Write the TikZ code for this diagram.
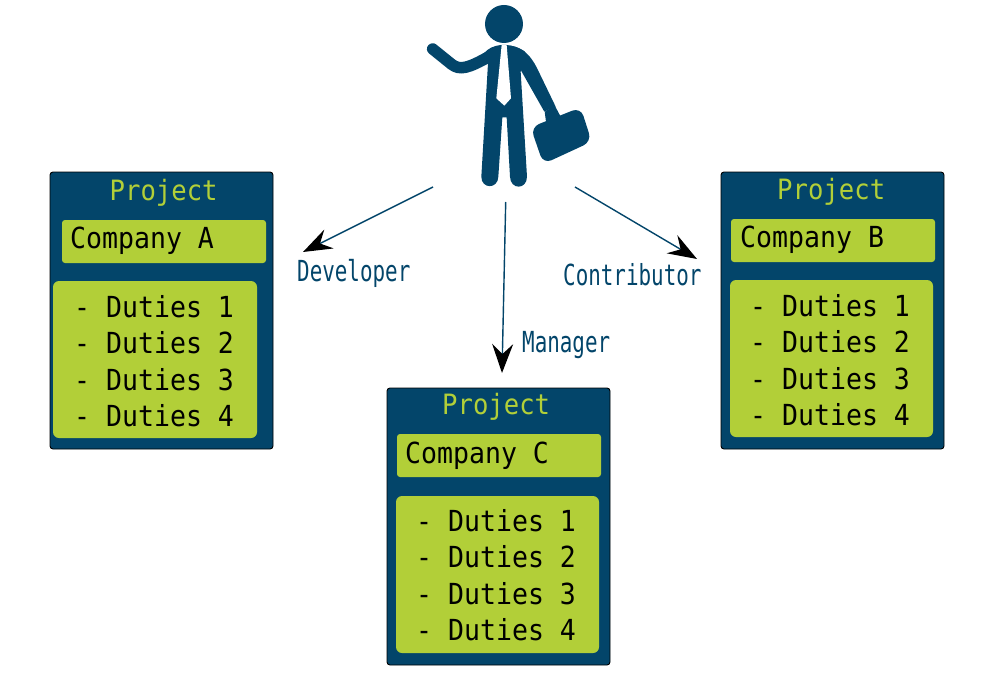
\documentclass[tikz,border=0pt]{standalone}
\usepackage{fontspec}
\usetikzlibrary{arrows.meta}
\newfontfamily\bodymono[FakeStretch=0.915]{DejaVu Sans Mono}
\newfontfamily\labelmono[FakeStretch=0.72]{DejaVu Sans Mono}
\definecolor{navy}{HTML}{03456A}
\definecolor{lime}{HTML}{B2CF38}
\tikzset{
  x=1pt,y=-1pt,
  card/.style={fill=navy,draw=black,line width=0.9pt,rounded corners=3pt},
  panel/.style={fill=lime,rounded corners=3pt},
  dutypanel/.style={fill=lime,rounded corners=6pt},
  txt/.style={anchor=base west,inner sep=0pt,font=\bodymono\fontsize{29}{29}\selectfont},
  title/.style={txt,text=lime,font=\bodymono\fontsize{28}{28}\selectfont},
  role/.style={anchor=base west,inner sep=0pt,text=navy,font=\labelmono\fontsize{29}{29}\selectfont},
  link/.style={draw=navy,line width=1.4pt,-{Stealth[length=29pt,width=21pt,inset=10pt,black]}},
}
\begin{document}
\begin{tikzpicture}
\useasboundingbox (0,0) rectangle (987,698);

% Person figure
\begin{scope}[shift={(410,0)},x=0.3333pt,y=-0.3333pt]
  \fill[navy] (282,72) circle[radius=57];
  % raised arm
  \draw[navy,line width=11.5pt,line cap=round] (68,147) -- (125,193) .. controls (150,212) and (175,205) .. (240,168);
  % torso and legs
  \fill[navy] (275,135) .. controls (250,137) and (235,145) .. (222,160)
     -- (234,190) -- (214,530)
     .. controls (214,568) and (264,568) .. (265,530)
     -- (277,352) -- (290,352) -- (300,530)
     .. controls (301,570) and (351,570) .. (351,530)
     -- (332,215) -- (345,190) -- (345,155)
     .. controls (325,142) and (310,137) .. (290,135) -- cycle;
  % lowered arm
  \fill[navy] (300,137) .. controls (340,142) and (362,168) .. (380,202)
     -- (437,320) -- (403,335) -- (335,215) -- cycle;
  \fill[navy,rounded corners=1pt] (404,335) -- (435,318) -- (452,350) -- (408,365) -- cycle;
  % briefcase
  \fill[navy,rounded corners=9pt] (362,382) -- (512,322) -- (545,425) -- (400,492) -- cycle;
  % tie
  \fill[white] (275,135) -- (290,135) -- (303,295) -- (283,317) -- (259,295) -- cycle;
\end{scope}

% Connector ends
\coordinate (devstart) at (433,187);
\coordinate (devend) at (303,252);
\coordinate (mgrstart) at (505.7,202);
\coordinate (mgrend) at (502,373);
\coordinate (constart) at (575,187);
\coordinate (conend) at (697,259);
\draw[link] (devstart) -- (devend);
\draw[link] (mgrstart) -- (mgrend);
\draw[link] (constart) -- (conend);

\node[role] (developer) at (297,281) {Developer};
\node[role] (manager) at (522,352) {Manager};
\node[role] (contributor) at (563,285) {Contributor};

% Project A
\draw[card] (50,172) rectangle (273,449);
\fill[panel] (62,220) rectangle (266,263);
\fill[dutypanel] (53,281) rectangle (257,438);
\node[title] (pa) at (109.5,200) {Project};
\node[txt] (ca) at (70,248) {Company A};
\node[txt] (a1) at (74,317) {- Duties 1};
\node[txt] (a2) at (74,353) {- Duties 2};
\node[txt] (a3) at (74,390) {- Duties 3};
\node[txt] (a4) at (74,426) {- Duties 4};

% Project B
\draw[card] (721,172) rectangle (944,449);
\fill[panel] (731,219) rectangle (935,262);
\fill[dutypanel] (730,280) rectangle (933,437);
\node[title] (pb) at (777,199) {Project};
\node[txt] (cb) at (740,247) {Company B};
\node[txt] (b1) at (750,316) {- Duties 1};
\node[txt] (b2) at (750,352) {- Duties 2};
\node[txt] (b3) at (750,389) {- Duties 3};
\node[txt] (b4) at (750,425) {- Duties 4};

% Project C
\draw[card] (387,388) rectangle (610,665);
\fill[panel] (397,434) rectangle (601,477);
\fill[dutypanel] (396,496) rectangle (599,653);
\node[title] (pc) at (442,414) {Project};
\node[txt] (cc) at (405,463) {Company C};
\node[txt] (c1) at (416,531) {- Duties 1};
\node[txt] (c2) at (416,567) {- Duties 2};
\node[txt] (c3) at (416,604) {- Duties 3};
\node[txt] (c4) at (416,640) {- Duties 4};
\end{tikzpicture}
\end{document}
